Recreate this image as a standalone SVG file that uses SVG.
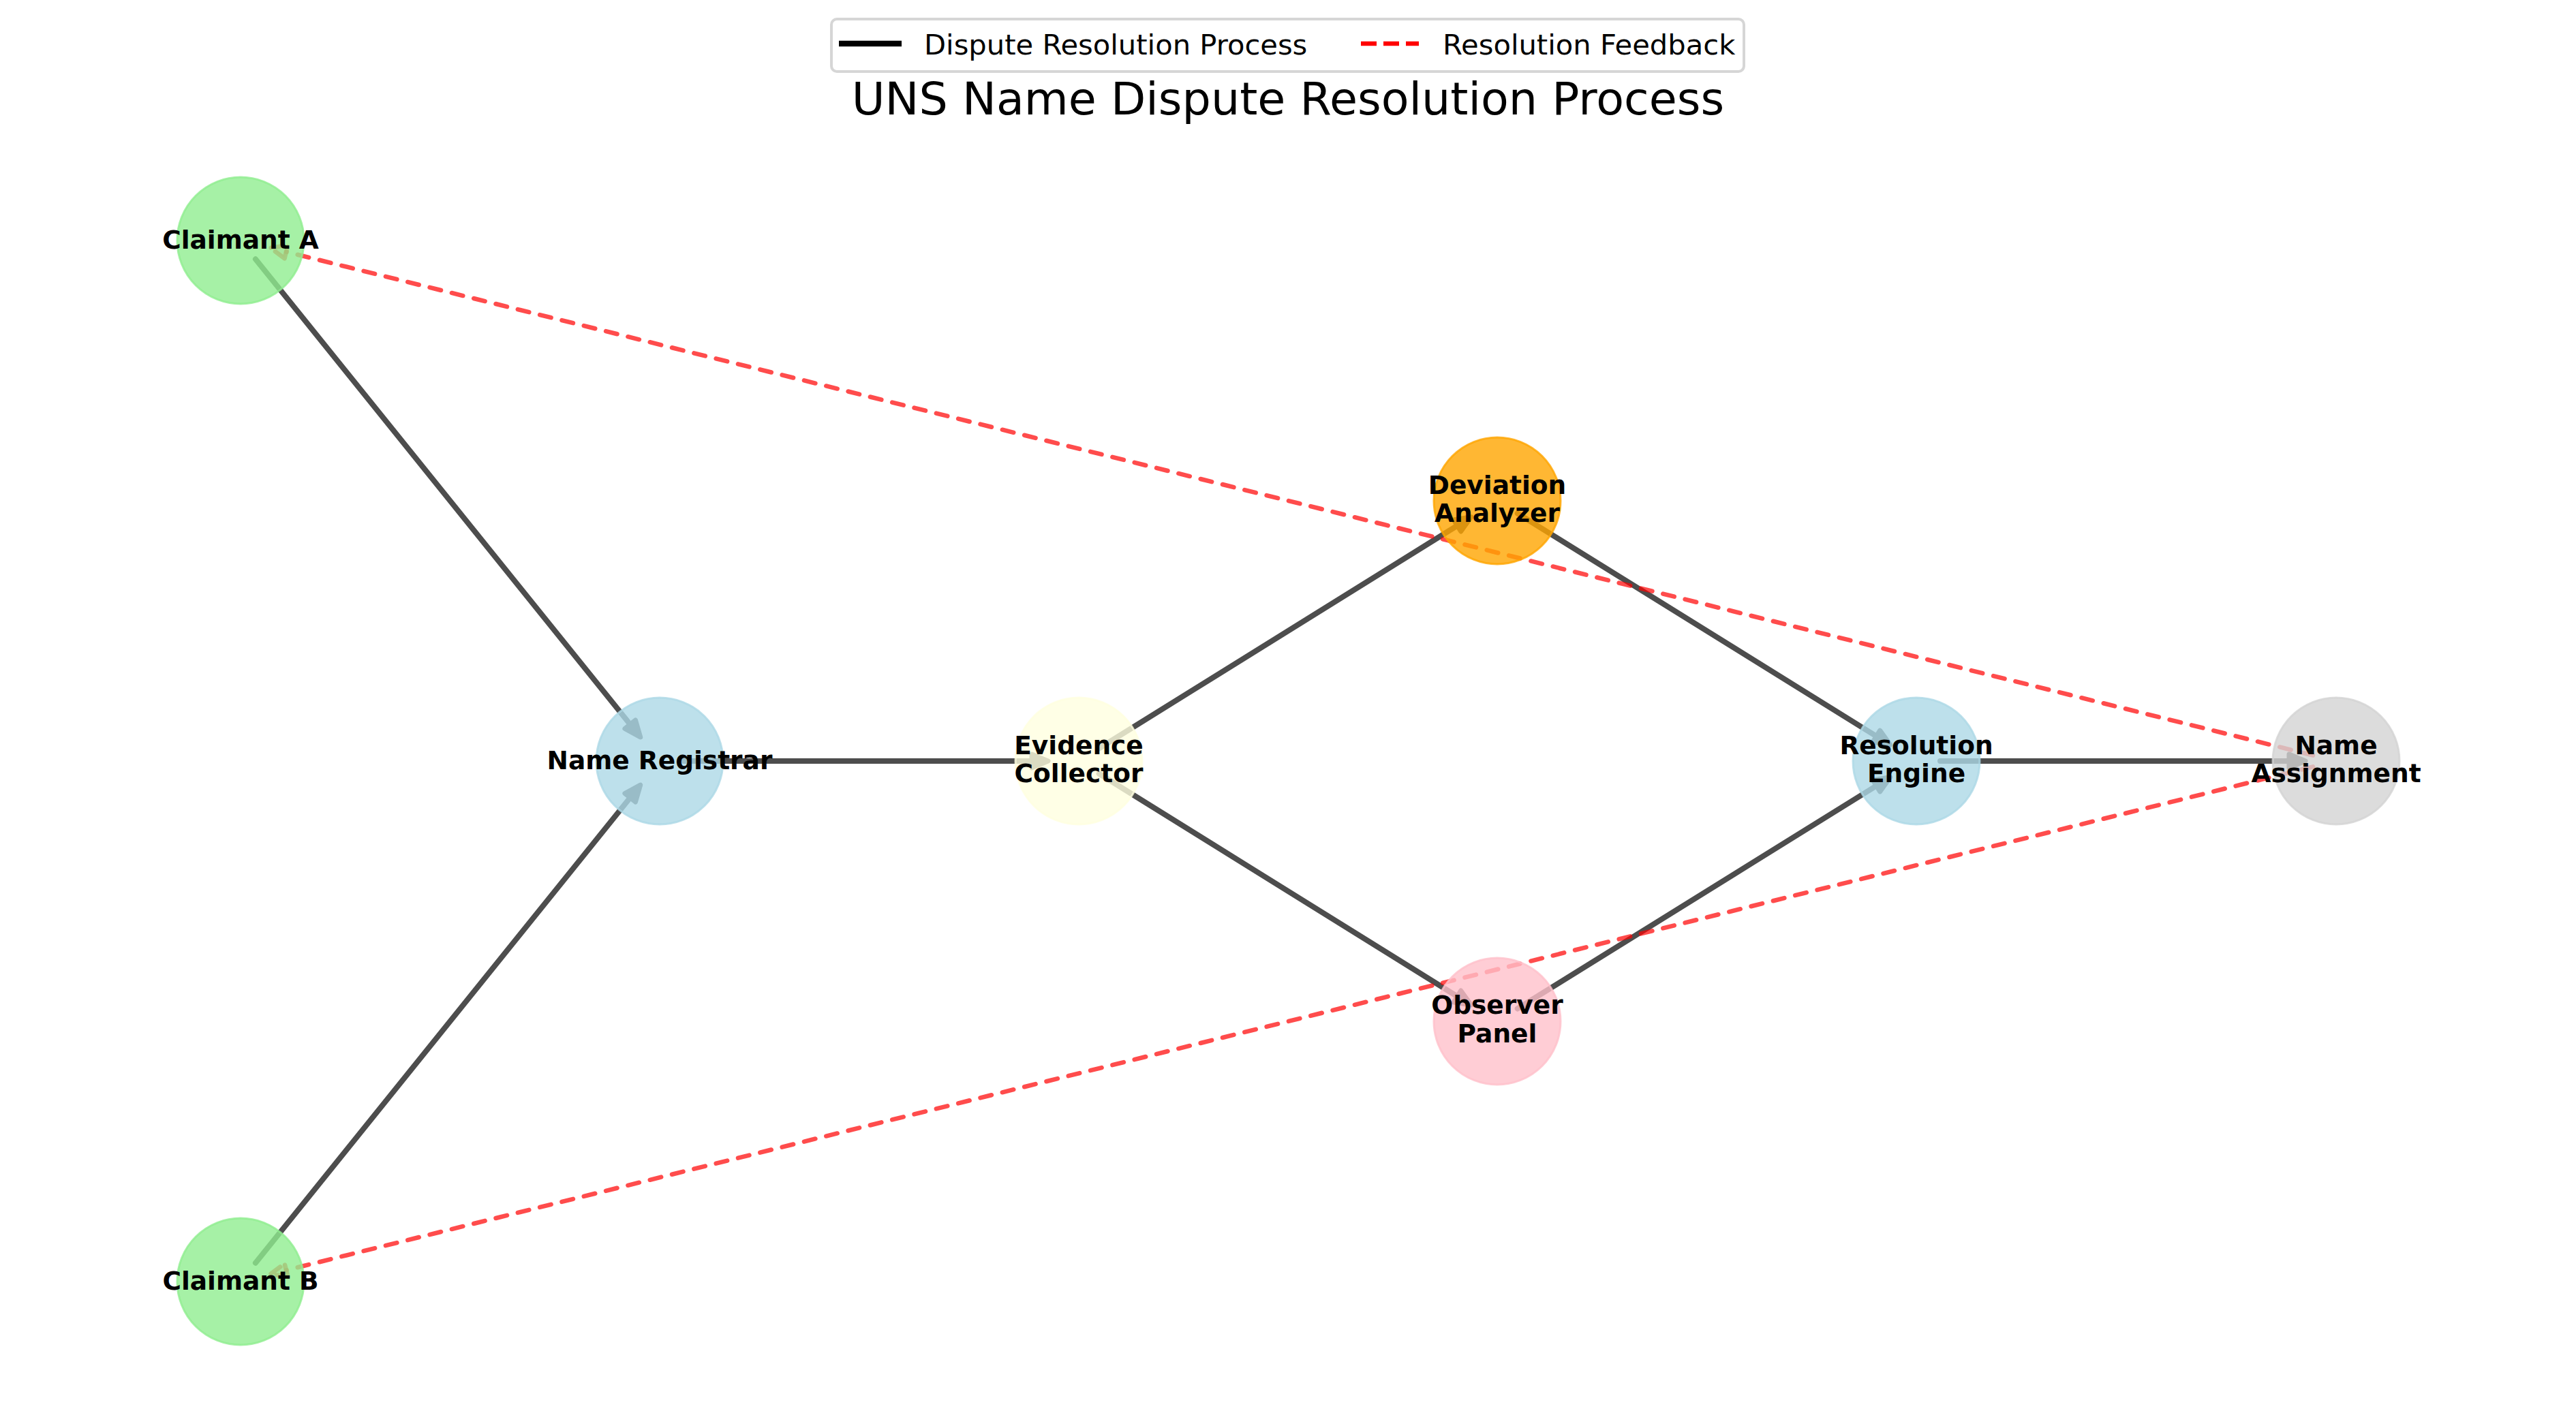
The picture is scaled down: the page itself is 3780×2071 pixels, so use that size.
<svg xmlns="http://www.w3.org/2000/svg" width="3780" height="2071" viewBox="0 0 3780 2071">
<style>
.lbl{font-family:"DejaVu Sans","Liberation Sans",sans-serif;font-weight:bold;font-size:37.5px;fill:#000;text-anchor:middle}
.leg{font-family:"DejaVu Sans","Liberation Sans",sans-serif;font-size:41.67px;fill:#000}
.title{font-family:"DejaVu Sans","Liberation Sans",sans-serif;font-size:66.7px;fill:#000;text-anchor:middle}
.solid{stroke:#4d4d4d;stroke-width:8;fill:none;stroke-linecap:round;marker-end:url(#ah)}
.dash{stroke:#ff0000;stroke-opacity:0.7;stroke-width:6.5;fill:none;stroke-linecap:round;stroke-dasharray:17 16.3;marker-end:url(#ahr)}
.node{fill-opacity:0.8;stroke-opacity:0.8;stroke-width:3}
</style>
<defs>
<marker id="ah" markerUnits="userSpaceOnUse" viewBox="-10 -20 50 40" markerWidth="50" markerHeight="40" refX="0" refY="0" orient="auto" overflow="visible">
<path d="M0,-10 L24,0 L0,10 Z" fill="#4d4d4d" stroke="#4d4d4d" stroke-width="7" stroke-linejoin="round"/>
</marker>
<marker id="ahr" markerUnits="userSpaceOnUse" viewBox="-10 -20 50 40" markerWidth="50" markerHeight="40" refX="0" refY="0" orient="auto" overflow="visible">
<path d="M0,-10 L24,0 L0,10 Z" fill="#ff0000" fill-opacity="0.2" stroke="#ff0000" stroke-opacity="0.7" stroke-width="6.5" stroke-linejoin="round" stroke-linecap="round" stroke-dasharray="17 10"/>
</marker>
</defs>
<rect width="3780" height="2071" fill="#ffffff"/>

<g id="connectors">
<line class="solid" x1="374.9" y1="380.3" x2="924.7" y2="1063.2"/>
<line class="solid" x1="374.9" y1="1853.7" x2="924.7" y2="1170.8"/>
<line class="solid" x1="1003" y1="1117" x2="1514" y2="1117"/>
<line class="solid" x1="1612.7" y1="1098.5" x2="2138.4" y2="771.5"/>
<line class="solid" x1="1612.7" y1="1135.5" x2="2138.4" y2="1462.5"/>
<line class="solid" x1="2226.7" y1="753.5" x2="2753.4" y2="1080.6"/>
<line class="solid" x1="2226.7" y1="1480.5" x2="2753.4" y2="1153.4"/>
<line class="solid" x1="2847" y1="1117" x2="3359" y2="1117"/>
<line class="dash" x1="3394" y1="1108.6" x2="420" y2="369.6"/>
<line class="dash" x1="3394" y1="1125.4" x2="420" y2="1864.4"/>
</g>

<g id="node-claimant-a">
<circle class="node" cx="353" cy="353" r="93" fill="#90ee90" stroke="#90ee90"/>
<text class="lbl" x="353" y="365">Claimant A</text>
</g>
<g id="node-claimant-b">
<circle class="node" cx="353" cy="1881" r="93" fill="#90ee90" stroke="#90ee90"/>
<text class="lbl" x="353" y="1893">Claimant B</text>
</g>
<g id="node-name-registrar">
<circle class="node" cx="968" cy="1117" r="93" fill="#add8e6" stroke="#add8e6"/>
<text class="lbl" x="968" y="1129">Name Registrar</text>
</g>
<g id="node-evidence-collector">
<circle class="node" cx="1583" cy="1117" r="93" fill="#ffffe0" stroke="#ffffe0"/>
<text class="lbl" x="1583" y="1107">Evidence</text>
<text class="lbl" x="1583" y="1148">Collector</text>
</g>
<g id="node-deviation-analyzer">
<circle class="node" cx="2197" cy="735" r="93" fill="#ffa500" stroke="#ffa500"/>
<text class="lbl" x="2197" y="725">Deviation</text>
<text class="lbl" x="2197" y="766">Analyzer</text>
</g>
<g id="node-observer-panel">
<circle class="node" cx="2197" cy="1499" r="93" fill="#ffc0cb" stroke="#ffc0cb"/>
<text class="lbl" x="2197" y="1488">Observer</text>
<text class="lbl" x="2197" y="1530">Panel</text>
</g>
<g id="node-resolution-engine">
<circle class="node" cx="2812" cy="1117" r="93" fill="#add8e6" stroke="#add8e6"/>
<text class="lbl" x="2812" y="1107">Resolution</text>
<text class="lbl" x="2812" y="1148">Engine</text>
</g>
<g id="node-name-assignment">
<circle class="node" cx="3428" cy="1117" r="93" fill="#d3d3d3" stroke="#d3d3d3"/>
<text class="lbl" x="3428" y="1107">Name</text>
<text class="lbl" x="3428" y="1148">Assignment</text>
</g>

<g id="title">
<text class="title" x="1890" y="168">UNS Name Dispute Resolution Process</text>
</g>

<g id="legend">
<rect x="1220" y="28" width="1339" height="77" rx="8" fill="#ffffff" fill-opacity="0.8" stroke="#d6d6d6" stroke-width="4"/>
<line x1="1231" y1="64" x2="1323" y2="64" stroke="#000000" stroke-width="8.3"/>
<text class="leg" x="1356" y="80">Dispute Resolution Process</text>
<line x1="1997" y1="64" x2="2082" y2="64" stroke="#ff0000" stroke-width="6.5" stroke-dasharray="23 10"/>
<text class="leg" x="2117" y="80">Resolution Feedback</text>
</g>
</svg>
